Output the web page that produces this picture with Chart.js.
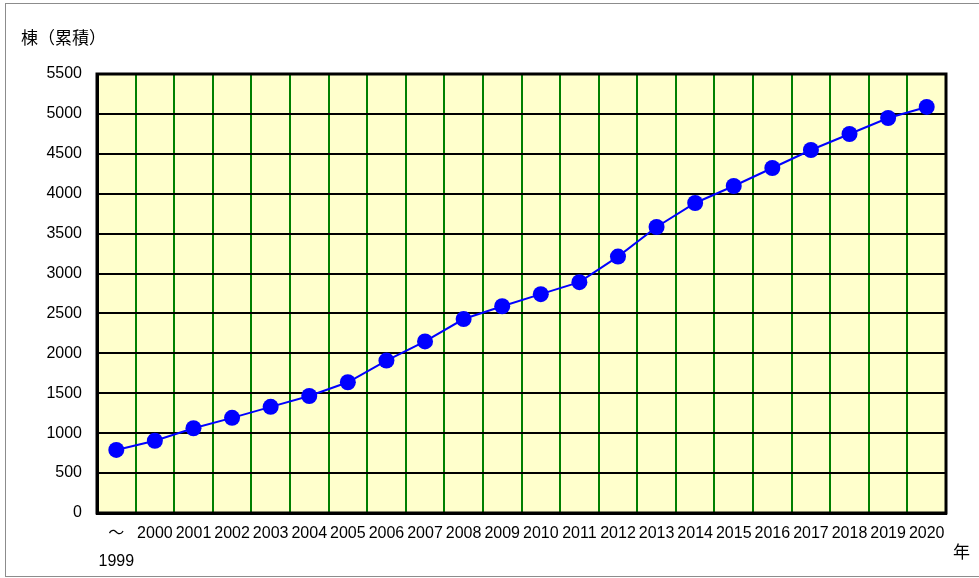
<!DOCTYPE html>
<html>
<head>
<meta charset="utf-8">
<script src="https://cdn.jsdelivr.net/npm/chart.js@4"></script>
<style>
  html, body { margin: 0; padding: 0; background: #fff; }
  #wrap { width: 979px; height: 578px; }
</style>
</head>
<body>
<div id="wrap"><canvas id="chart" width="979" height="578"></canvas></div>
<script>
// 年ごとの累積棟数
const years = [['～', '1999'], '2000', '2001', '2002', '2003', '2004', '2005', '2006', '2007', '2008',
  '2009', '2010', '2011', '2012', '2013', '2014', '2015', '2016', '2017', '2018', '2019', '2020'];
const cumulative = [790, 905, 1062, 1192, 1330, 1466, 1638, 1910, 2150, 2430,
  2590, 2742, 2892, 3212, 3583, 3884, 4097, 4322, 4548, 4748, 4949, 5087];
const yTicks = [0, 500, 1000, 1500, 2000, 2500, 3000, 3500, 4000, 4500, 5000, 5500];

const fontFamily = '"Liberation Sans", "Noto Sans CJK JP", sans-serif';

// 背景・枠・軸タイトル
const framePlugin = {
  id: 'frame',
  beforeDraw(chart) {
    const { ctx, chartArea: a } = chart;
    ctx.save();
    ctx.fillStyle = '#fff';
    ctx.fillRect(0, 0, chart.width, chart.height);
    ctx.strokeStyle = '#8c8c8c';
    ctx.lineWidth = 1;
    ctx.strokeRect(5.5, 3.5, chart.width, chart.height - 5);
    ctx.fillStyle = '#FFFFCC';
    ctx.fillRect(a.left, a.top, a.right - a.left, a.bottom - a.top);
    ctx.restore();
  },
  afterDatasetsDraw(chart) {
    const { ctx, chartArea: a } = chart;
    ctx.save();
    ctx.strokeStyle = '#000';
    ctx.lineWidth = 3;
    ctx.strokeRect(a.left, a.top, a.right - a.left, a.bottom - a.top);
    ctx.fillStyle = '#000';
    ctx.font = '17px "Noto Sans CJK JP", sans-serif';
    ctx.textBaseline = 'middle';
    ctx.textAlign = 'left';
    ctx.fillText('棟（累積）', 21, 38);
    ctx.fillText('年', 953, 552);
    ctx.restore();
  }
};

new Chart(document.getElementById('chart'), {
  type: 'line',
  data: {
    labels: years,
    datasets: [{
      data: cumulative,
      borderColor: '#0000FF',
      backgroundColor: '#0000FF',
      borderWidth: 2,
      pointRadius: 8,
      pointHoverRadius: 8,
      pointBackgroundColor: '#0000FF',
      pointBorderWidth: 0,
      tension: 0
    }]
  },
  options: {
    responsive: false,
    animation: false,
    devicePixelRatio: 1,
    layout: { padding: { top: 74, right: 33, left: 0, bottom: 0 } },
    plugins: { legend: { display: false }, tooltip: { enabled: false } },
    scales: {
      x: {
        offset: true,
        grid: { offset: true, color: '#008000', lineWidth: 2, drawTicks: false },
        border: { color: '#000', width: 3 },
        ticks: {
          color: '#000', font: { family: fontFamily, size: 16, lineHeight: 1.75 }, padding: 7,
          maxRotation: 0, autoSkip: false
        },
        afterFit(scale) { scale.height = 65; }
      },
      y: {
        min: 0,
        max: 5500,
        afterBuildTicks(scale) { scale.ticks = yTicks.map(v => ({ value: v })); },
        grid: { color: '#000', lineWidth: 2, drawTicks: false },
        border: { color: '#000', width: 3 },
        ticks: {
          color: '#000', font: { family: fontFamily, size: 16 }, padding: 15,
          callback: v => String(v)
        },
        afterFit(scale) { scale.width = 97; }
      }
    }
  },
  plugins: [framePlugin]
});
</script>
</body>
</html>
